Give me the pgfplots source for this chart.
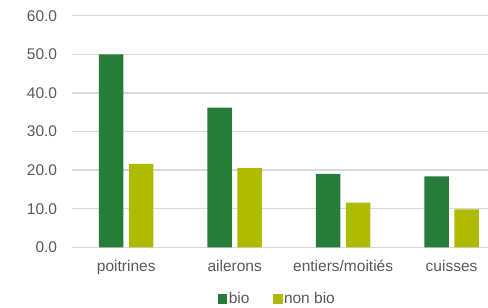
\documentclass[border=0pt]{standalone}
\usepackage{pgfplots}
\pgfplotsset{compat=1.18}
\usepackage{fontspec}
\setmainfont{Liberation Sans}
\definecolor{bio}{RGB}{39,124,58}
\definecolor{nonbio}{RGB}{174,187,0}
\definecolor{txt}{RGB}{89,89,89}
\definecolor{gridgray}{RGB}{217,217,217}
\begin{document}
\begin{tikzpicture}
\useasboundingbox (0,0) rectangle (488pt,308pt);
\begin{axis}[
  at={(72pt,60.7pt)}, anchor=south west,
  scale only axis, width=416pt, height=231.6pt,
  ybar, bar width=24.5pt,
  xmin=-0.5, xmax=3.336, ymin=0, ymax=60,
  xtick={0,1,2,3}, xticklabels={poitrines,ailerons,entiers/moitiés,cuisses},
  ytick={0,10,...,60},
  yticklabel={\pgfmathprintnumber[fixed,fixed zerofill,precision=1]{\tick}},
  /pgf/number format/assume math mode=true,
  ymajorgrids=true, xmajorgrids=false, grid style={draw=gridgray, line width=1.4pt},
  major tick length=0pt,
  axis line style={draw=none},
  font=\fontsize{15.5}{18}\selectfont,
  tick label style={text=txt},
  yticklabel style={anchor=east, inner sep=0pt, xshift=-14.7pt},
  xticklabel style={anchor=base, inner sep=0pt, yshift=-24.4pt},
  legend style={at={(0.493,0)}, anchor=center, yshift=-51.7pt, draw=none, fill=none,
    legend columns=2, font=\fontsize{15.5}{18}\selectfont, text=txt,
    nodes={inner sep=1.5pt},
    /tikz/every even column/.style={column sep=22pt}},
  legend image code/.code={\fill[#1] (0pt,-4.75pt) rectangle (9.5pt,4.75pt);},
]
\addplot[fill=bio, draw=none, bar shift=-15pt] coordinates {(0,50.0) (1,36.2) (2,19.0) (3,18.4)};
\addplot[fill=nonbio, draw=none, bar shift=15pt] coordinates {(0,21.6) (1,20.5) (2,11.6) (3,9.8)};
\legend{bio,non bio}
\end{axis}
\end{tikzpicture}
\end{document}
